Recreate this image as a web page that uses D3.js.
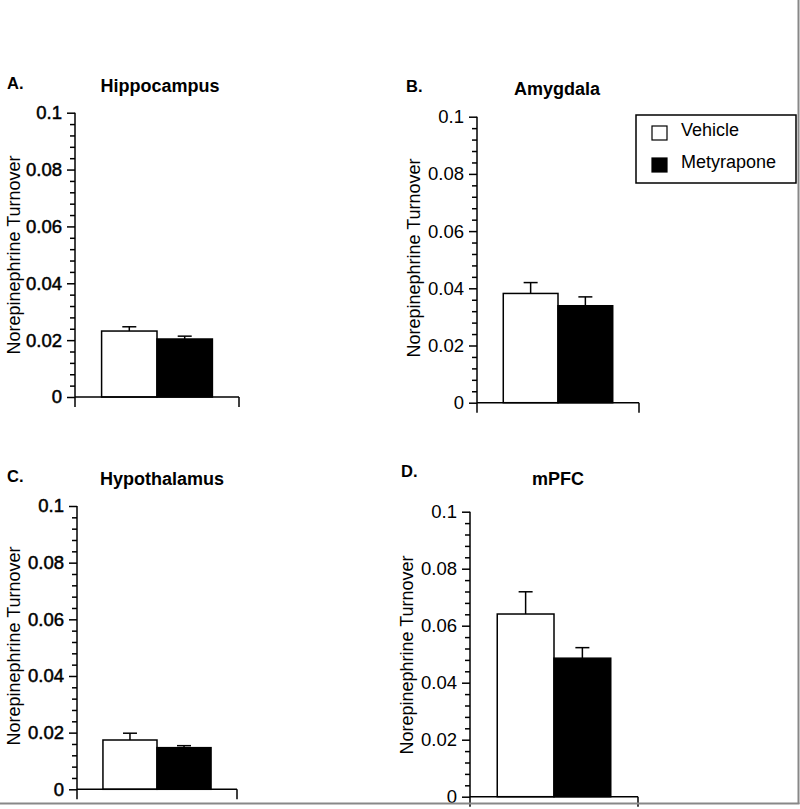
<!DOCTYPE html>
<html>
<head>
<meta charset="utf-8">
<script src="https://cdn.jsdelivr.net/npm/d3@7"></script>
<style>
  html, body { margin: 0; padding: 0; background: #fff; }
  svg { display: block; }
  text { font-family: "Liberation Sans", Arial, Helvetica, sans-serif; fill: #000; }
</style>
</head>
<body>
<svg id="chart" width="800" height="809"></svg>
<script>
// ---- data ----
const regions = ["Hippocampus", "Amygdala", "Hypothalamus", "mPFC"];
const panelLetters = ["A.", "B.", "C.", "D."];
const groups = ["Vehicle", "Metyrapone"];
const vehicleMean = [0.0232, 0.0382, 0.0174, 0.0641];
const vehicleSEM = [0.0015, 0.0038, 0.0024, 0.0078];
const metyraponeMean = [0.0204, 0.0339, 0.0147, 0.0486];
const metyraponeSEM = [0.0010, 0.0031, 0.0007, 0.0037];
const yTicks = [0, 0.02, 0.04, 0.06, 0.08, 0.1];
const yTickLabels = ["0", "0.02", "0.04", "0.06", "0.08", "0.1"];
const yLabel = "Norepinephrine Turnover";

// ---- layout (pixels) ----
const layout = [
  { ax: 75,  xEnd: 239, yTop: 112.7, yZero: 397,   letterX: 7,   letterY: 89,  titleX: 160, titleY: 92,  labelX: 20,  labelY: 255, heavy: true },
  { ax: 477, xEnd: 639, yTop: 116.7, yZero: 402.7, letterX: 406, letterY: 92,  titleX: 557, titleY: 95,  labelX: 420, labelY: 258, heavy: false },
  { ax: 77,  xEnd: 237, yTop: 506,   yZero: 789.3, letterX: 7,   letterY: 482, titleX: 162, titleY: 485, labelX: 20,  labelY: 646, heavy: true },
  { ax: 470, xEnd: 638, yTop: 511.7, yZero: 796.7, letterX: 401, letterY: 477, titleX: 558, titleY: 485, labelX: 413, labelY: 655, heavy: false }
];
const fills = { Vehicle: "#ffffff", Metyrapone: "#000000" };
const SW = 1.5;

const svg = d3.select("#chart");

regions.forEach((region, i) => {
  const L = layout[i];
  const g = svg.append("g");
  const y = d3.scaleLinear().domain([0, 0.1]).range([L.yZero, L.yTop]);
  const x = d3.scaleBand().domain(groups).range([L.ax, L.xEnd]).paddingInner(0).paddingOuter(0.48);

  // minor ticks
  const minor = d3.range(0, 0.1 + 1e-9, 0.004).filter(v => !yTicks.some(t => Math.abs(t - v) < 1e-9));
  const gMinor = g.append("g").attr("transform", `translate(${L.ax},0)`)
    .call(d3.axisLeft(y).tickValues(minor).tickSize(5).tickFormat(""));
  gMinor.select(".domain").remove();
  gMinor.selectAll("line").attr("stroke", "#000").attr("stroke-width", SW);

  // major ticks
  const gMajor = g.append("g").attr("transform", `translate(${L.ax},0)`)
    .call(d3.axisLeft(y).tickValues(yTicks).tickSize(8).tickPadding(5)
      .tickFormat((d, k) => yTickLabels[k]));
  gMajor.select(".domain").remove();
  gMajor.selectAll("line").attr("stroke", "#000").attr("stroke-width", SW);
  gMajor.selectAll("text").attr("font-size", 18.5).attr("font-family", '"Liberation Sans", Arial, sans-serif')
    .attr("fill", "#000")
    .attr("stroke", L.heavy ? "#000" : "none").attr("stroke-width", L.heavy ? 0.5 : 0);

  // y axis line (extends below zero)
  g.append("line").attr("x1", L.ax).attr("x2", L.ax).attr("y1", y(0.1)).attr("y2", L.yZero + 10)
    .attr("stroke", "#000").attr("stroke-width", SW);

  const vals = [
    { grp: "Vehicle", mean: vehicleMean[i], sem: vehicleSEM[i] },
    { grp: "Metyrapone", mean: metyraponeMean[i], sem: metyraponeSEM[i] }
  ];
  // error bars (upper only)
  vals.forEach(d => {
    const cx = x(d.grp) + x.bandwidth() / 2;
    g.append("line").attr("x1", cx).attr("x2", cx).attr("y1", y(d.mean)).attr("y2", y(d.mean + d.sem))
      .attr("stroke", "#000").attr("stroke-width", SW);
    g.append("line").attr("x1", cx - 7).attr("x2", cx + 7).attr("y1", y(d.mean + d.sem)).attr("y2", y(d.mean + d.sem))
      .attr("stroke", "#000").attr("stroke-width", SW);
  });
  // bars
  g.selectAll("rect.bar").data(vals).enter().append("rect")
    .attr("class", "bar")
    .attr("x", d => x(d.grp))
    .attr("width", x.bandwidth())
    .attr("y", d => y(d.mean))
    .attr("height", d => y(0) - y(d.mean))
    .attr("fill", d => fills[d.grp])
    .attr("stroke", "#000").attr("stroke-width", SW);

  // x axis line with end tick
  g.append("line").attr("x1", L.ax).attr("x2", L.xEnd).attr("y1", L.yZero).attr("y2", L.yZero)
    .attr("stroke", "#000").attr("stroke-width", SW);
  g.append("line").attr("x1", L.xEnd).attr("x2", L.xEnd).attr("y1", L.yZero).attr("y2", L.yZero + 10)
    .attr("stroke", "#000").attr("stroke-width", SW);

  // titles
  g.append("text").attr("x", L.letterX).attr("y", L.letterY).attr("font-size", 16.5).attr("font-weight", "bold").text(panelLetters[i]);
  g.append("text").attr("x", L.titleX).attr("y", L.titleY).attr("text-anchor", "middle")
    .attr("font-size", 18).attr("font-weight", "bold").text(region);
  g.append("text").attr("transform", `translate(${L.labelX},${L.labelY}) rotate(-90)`)
    .attr("text-anchor", "middle").attr("font-size", 18).text(yLabel);
});

// legend
const leg = svg.append("g");
leg.append("rect").attr("x", 636).attr("y", 115).attr("width", 160).attr("height", 68)
  .attr("fill", "#fff").attr("stroke", "#000").attr("stroke-width", SW);
groups.forEach((grp, k) => {
  const yy = 126 + k * 32;
  leg.append("rect").attr("x", 652).attr("y", yy).attr("width", 15).attr("height", 14)
    .attr("fill", fills[grp]).attr("stroke", "#000").attr("stroke-width", 1.2);
  leg.append("text").attr("x", 681).attr("y", yy + 10).attr("font-size", 18).text(grp);
});

// page border (grey)
svg.append("line").attr("x1", 798.5).attr("x2", 798.5).attr("y1", 0).attr("y2", 804)
  .attr("stroke", "#888").attr("stroke-width", 2);
svg.append("line").attr("x1", 0).attr("x2", 799.5).attr("y1", 803.5).attr("y2", 803.5)
  .attr("stroke", "#888").attr("stroke-width", 2);
</script>
</body>
</html>
